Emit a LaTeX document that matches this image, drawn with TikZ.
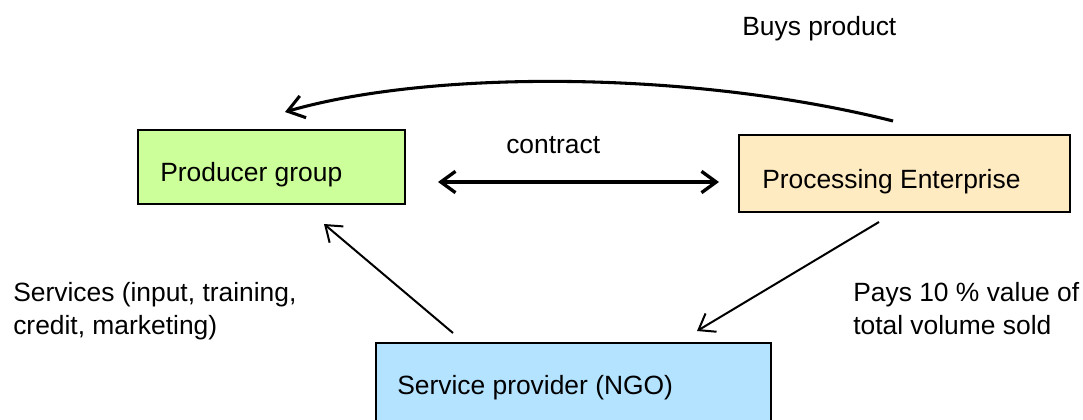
\documentclass[tikz,border=0pt]{standalone}
\usepackage{fontspec}
\setmainfont{Liberation Sans}
\usetikzlibrary{arrows.meta,calc}
\definecolor{pgreen}{RGB}{204,255,153}
\definecolor{pbeige}{RGB}{255,235,193}
\definecolor{pblue}{RGB}{180,227,255}
\begin{document}
\begin{tikzpicture}[x=0.75pt,y=-0.75pt,
  box/.style={draw=black, line width=1.1pt, inner sep=0pt, outer sep=0pt},
  lbl/.style={inner sep=0pt, anchor=base west, font=\fontsize{19.8}{24}\selectfont},
  thickarrow/.style={line width=2.3pt, -{Straight Barb[length=12pt,width=17pt]}},
  thinarrow/.style={line width=1.5pt, -{Straight Barb[length=11pt,width=16pt]}}]
\useasboundingbox (0,0) rectangle (1083,420);
\clip (0,0) rectangle (1083,420);
% boxes
\node[box, fill=pgreen, minimum width=200.25pt, minimum height=55.5pt] (pg) at (271.5,167) {};
\node[box, fill=pbeige, minimum width=248.25pt, minimum height=57.75pt] (pe) at (904.5,173.5) {};
\node[box, fill=pblue, minimum width=296.25pt, minimum height=72.75pt] (sp) at (573.5,391.5) {};
% box texts
\node[lbl] (pgt) at (160,182) {Producer group};
\node[lbl] (pet) at (762,189) {Processing Enterprise};
\node[lbl] (spt) at (397,395) {Service provider (NGO)};
% labels
\node[lbl] (buys) at (742,36) {Buys product};
\node[lbl] (contr) at (506,154) {contract};
\node[lbl, align=left, anchor=north west] (serv) at (13,282) {Services (input, training,\\[1pt]credit, marketing)};
\node[lbl, align=left, anchor=north west] (pays) at (853,282) {Pays 10 \% value of\\[1pt]total volume sold};
% connector end points
\coordinate (buyS) at ($(pe.north west)+(154,-14)$);
\coordinate (buyE) at ($(pg.north west)+(147,-18)$);
\coordinate (conL) at ($(pg.east)+(33,15)$);
\coordinate (conR) at ($(pe.west)+(-20,8.5)$);
\coordinate (srvS) at ($(sp.north west)+(77,-10)$);
\coordinate (srvE) at ($(pg.south)+(52.5,20)$);
\coordinate (payS) at ($(pe.south west)+(140,10)$);
\coordinate (payE) at ($(sp.north west)+(321,-12)$);
% connectors
\draw[thickarrow] (buyS) .. controls (690,70) and (430,70) .. (buyE);
\draw[line width=2.5pt, {Straight Barb[length=11pt,width=16pt]}-{Straight Barb[length=11pt,width=16pt]}] (conL) -- (conR);
\draw[thinarrow] (srvS) -- (srvE);
\draw[thinarrow] (payS) -- (payE);
\end{tikzpicture}
\end{document}
